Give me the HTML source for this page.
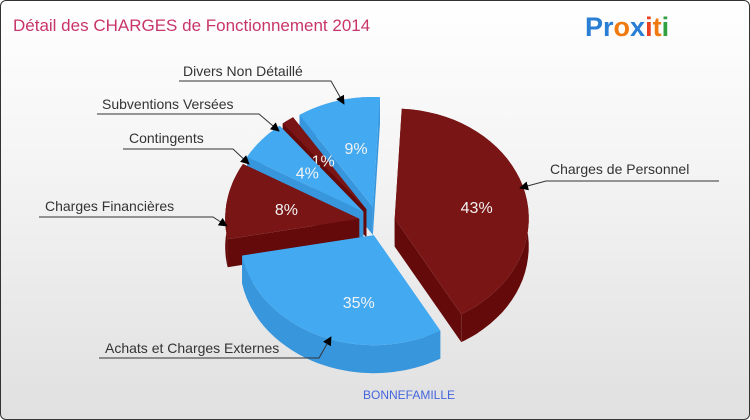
<!DOCTYPE html>
<html><head><meta charset="utf-8"><style>
body{margin:0;background:#fff}
#c{position:relative;width:748px;height:418px;border:1px solid #333;border-radius:6px;overflow:hidden;background:linear-gradient(#ffffff,#f4f4f4 40%,#e0e0e0);font-family:"Liberation Sans",sans-serif}
</style></head><body>
<div id="c">
<svg id="s" width="748" height="418">
<defs><marker id="ar" viewBox="0 0 10 10" refX="9" refY="5" markerWidth="9" markerHeight="9" orient="auto"><path d="M0,0L10,5L0,10z" fill="#000"/></marker></defs>
<text x="12" y="30" font-size="17" fill="#c8356a">Détail des CHARGES de Fonctionnement 2014</text>
<text x="584" y="35" font-size="27" font-weight="bold"><tspan fill="#2a7fd4">Pr</tspan><tspan fill="#f07a10">o</tspan><tspan fill="#2a7fd4">x</tspan><tspan fill="#e84020">i</tspan><tspan fill="#f07a10">t</tspan><tspan fill="#30a040">i</tspan></text>
<g id="pie"></g><g id="lab"></g>
<text x="408" y="398" text-anchor="middle" font-size="12" fill="#4466dd">BONNEFAMILLE</text>
</svg></div>
<script>
const categories=["Charges de Personnel","Achats et Charges Externes","Charges Financières","Contingents","Subventions Versées","Divers Non Détaillé"];
const values=[43,35,8,4,1,9];
const labelsPct=["43%","35%","8%","4%","1%","9%"];
const NS="http://www.w3.org/2000/svg";
const cx=376,cy=220,rx=134,ry=110,depth=28,ex=18,start=3;
const cols=[["#7a1515","#650a0a"],["#43aaf2","#3896dc"],["#7a1515","#650a0a"],["#43aaf2","#3896dc"],["#7a1515","#650a0a"],["#43aaf2","#3896dc"]];
const tot=values.reduce((a,b)=>a+b,0);
function warp(t){return t>140&&t<335?t-32*Math.sin((t-140)/195*Math.PI):t;}
function pt(a,r,ox,oy,dy){const t=(warp(a)+start)*Math.PI/180;return [ox+r*rx*Math.sin(t),oy-r*ry*Math.cos(t)+dy];}
function arc(a1,a2,ox,oy,dy,rev){let s="";const n=40;for(let i=0;i<=n;i++){const a=rev?a2-(a2-a1)*i/n:a1+(a2-a1)*i/n;const p=pt(a,1,ox,oy,dy);s+=(i?"L":"")+p[0].toFixed(1)+","+p[1].toFixed(1);}return s;}
const pie=document.getElementById('pie');
let acc=0;const sl=[];
values.forEach((v,i)=>{const a1=acc,a2=acc+v/tot*360;acc=a2;const m=(a1+a2)/2,t=(warp(m)+start)*Math.PI/180;sl.push({i,a1,a2,m,t,ox:cx+ex*Math.sin(t),oy:cy-ex*0.8*Math.cos(t)});});
sl.slice().sort((a,b)=>(-Math.cos(a.t))-(-Math.cos(b.t))).forEach(s=>{
 const g=document.createElementNS(NS,'g');
 
 
 const c=cols[s.i];
 const add=(d,f)=>{const p=document.createElementNS(NS,'path');p.setAttribute('d',d);p.setAttribute('fill',f);g.appendChild(p);};
 const c0=s.ox.toFixed(1)+","+s.oy.toFixed(1),c1=s.ox.toFixed(1)+","+(s.oy+depth).toFixed(1);
 const p1=pt(s.a1,1,s.ox,s.oy,0),p2=pt(s.a2,1,s.ox,s.oy,0);
 add("M"+c0+"L"+p1+"L"+pt(s.a1,1,s.ox,s.oy,depth)+"L"+c1+"Z",c[1]);
 add("M"+c0+"L"+p2+"L"+pt(s.a2,1,s.ox,s.oy,depth)+"L"+c1+"Z",c[1]);
 add("M"+arc(s.a1,s.a2,s.ox,s.oy,0,false)+"L"+arc(s.a1,s.a2,s.ox,s.oy,depth,true)+"Z",c[1]);
 add("M"+c0+"L"+arc(s.a1,s.a2,s.ox,s.oy,0,false)+"Z",c[0]);
 const lp=pt(s.m,s.i==0||s.i==1?0.62:0.55,s.ox,s.oy,0);
 const tx=document.createElementNS(NS,'text');tx.setAttribute('x',lp[0]);tx.setAttribute('y',lp[1]+6);tx.setAttribute('text-anchor','middle');tx.setAttribute('font-size','16');tx.setAttribute('fill','#f2f2f2');tx.textContent=labelsPct[s.i];
 
 
 g.appendChild(tx);pie.appendChild(g);
});
const lab=document.getElementById('lab');
const L=[[549,173,"start",[[718,180],[545,180],[519,187]]],
[104,352,"start",[[98,357],[318,357],[330,336]]],
[44,210,"start",[[38,216],[212,216],[226,225]]],
[128,142,"start",[[122,148],[232,148],[248,163]]],
[101,108,"start",[[96,113],[258,113],[278,130]]],
[182,75,"start",[[178,80],[330,80],[343,103]]]];
L.forEach((l,i)=>{const g=document.createElementNS(NS,'g');


const t=document.createElementNS(NS,'text');t.setAttribute('x',l[0]);t.setAttribute('y',l[1]);t.setAttribute('font-size','14');t.setAttribute('fill','#333');t.textContent=categories[i];g.appendChild(t);
const p=document.createElementNS(NS,'polyline');p.setAttribute('points',l[3].map(q=>q.join(',')).join(' '));p.setAttribute('fill','none');p.setAttribute('stroke','#333');p.setAttribute('stroke-width','1');p.setAttribute('marker-end','url(#ar)');g.appendChild(p);lab.appendChild(g);});
</script></body></html>
